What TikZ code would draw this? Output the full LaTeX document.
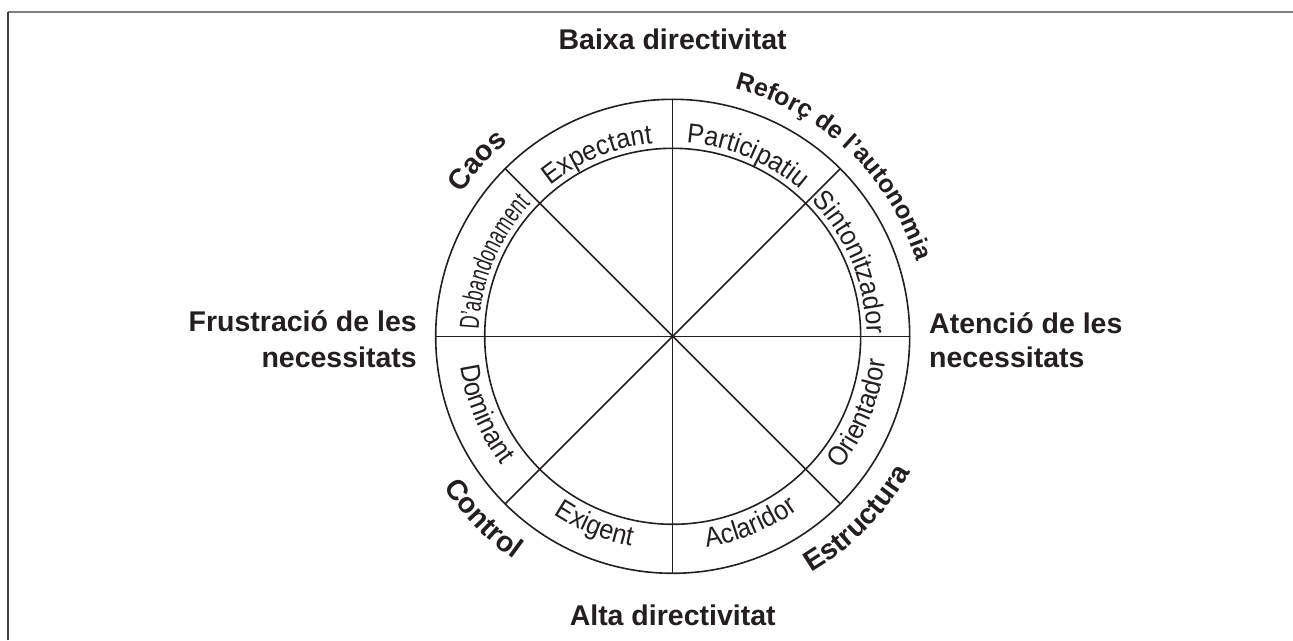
\documentclass[tikz,border=0pt]{standalone}
\usepackage{fontspec}
\setmainfont{Liberation Sans}
\newfontfamily\ringfam[FakeStretch=0.92]{Liberation Sans}
\newfontfamily\ringfamnarrow[FakeStretch=0.66]{Liberation Sans}
\newcommand\ringfont{\ringfam\fontsize{27.5}{27.5}\selectfont}
\newcommand\ringfontnarrow{\ringfamnarrow\fontsize{27.5}{27.5}\selectfont}
\newcommand\bigfont{\fontsize{28.5}{34}\selectfont\bfseries}
\newcommand\midfont{\fontsize{25}{30}\selectfont\bfseries}
\usetikzlibrary{decorations.text}
\definecolor{ink}{HTML}{231F20}
\begin{document}
\begin{tikzpicture}[x=1pt,y=1pt,
  lbl/.style={font=\bigfont, text=ink, inner sep=0pt},
  wheel/.style={draw=ink, line width=1.6pt},
  ringtxt/.style={decorate, decoration={text along path, text align=center, text color=ink, text={|\ringfont|#1}}},
  ringtxtn/.style={decorate, decoration={text along path, text align=center, text color=ink, text={|\ringfontnarrow|#1}}},
  arctxt/.style={decorate, decoration={text along path, text align=center, text color=ink, text={|\bigfont|#1}}},
  arctxtm/.style={decorate, decoration={text along path, text align=center, text color=ink, text={|\midfont|#1}}},
]
\useasboundingbox (-672.7,-303.7) rectangle (620.3,336.3);
% frame
\draw[black!50, line width=1.5pt] (-664.7,324.3) -- (620.3,324.3);
\draw[black!75, line width=1.8pt] (-664.7,-303.7) -- (-664.7,324.3);
% wheel
\coordinate (c) at (0,0);
\foreach \a in {0,45,...,315} \coordinate (o\a) at (\a:237);
\draw[wheel] (c) circle[radius=237];
\draw[wheel] (c) circle[radius=188];
\draw[wheel] (o0) -- (o180);
\draw[wheel] (o90) -- (o270);
\draw[wheel] (o45) -- (o225);
\draw[wheel] (o135) -- (o315);
% ring texts, upper half (clockwise, tops outward)
\path[ringtxtn={D’abandonament}] (187.5:194) arc[start angle=187.5, end angle=127.5, radius=194];
\path[ringtxt=Expectant] (142.5:194) arc[start angle=142.5, end angle=82.5, radius=194];
\path[ringtxt=Participatiu] (97.5:194) arc[start angle=97.5, end angle=37.5, radius=194];
\path[ringtxt=Sintonitzador] (52.5:194) arc[start angle=52.5, end angle=-7.5, radius=194];
% ring texts, lower half (counter-clockwise, tops inward)
\path[ringtxt=Dominant] (172.5:214) arc[start angle=172.5, end angle=232.5, radius=214];
\path[ringtxt=Exigent] (217.5:214) arc[start angle=217.5, end angle=277.5, radius=214];
\path[ringtxt=Aclaridor] (262.5:214) arc[start angle=262.5, end angle=322.5, radius=214];
\path[ringtxt=Orientador] (307.5:214) arc[start angle=307.5, end angle=367.5, radius=214];
% curved outer labels
\path[arctxt=Caos] (168.1:255) arc[start angle=168.1, end angle=108.1, radius=255];
\path[arctxtm={Reforç de l’autonomia}] (86.45:255) arc[start angle=86.45, end angle=6.45, radius=255];
\path[arctxt=Control] (194:274) arc[start angle=194, end angle=254, radius=274];
\path[arctxt=Estructura] (280.35:274) arc[start angle=280.35, end angle=350.35, radius=274];
% straight labels
\node[lbl, anchor=base] (top) at (0,286.3) {Baixa directivitat};
\node[lbl, anchor=base] (bottom) at (0,-288.7) {Alta directivitat};
\node[lbl, anchor=base east] (fr1) at (-255.7,4.6) {Frustració de les};
\node[lbl, anchor=base east] (fr2) at (-255.7,-31.0) {necessitats};
\node[lbl, anchor=base west] (at1) at (256.3,2.6) {Atenció de les};
\node[lbl, anchor=base west] (at2) at (256.3,-31.0) {necessitats};
\end{tikzpicture}
\end{document}
